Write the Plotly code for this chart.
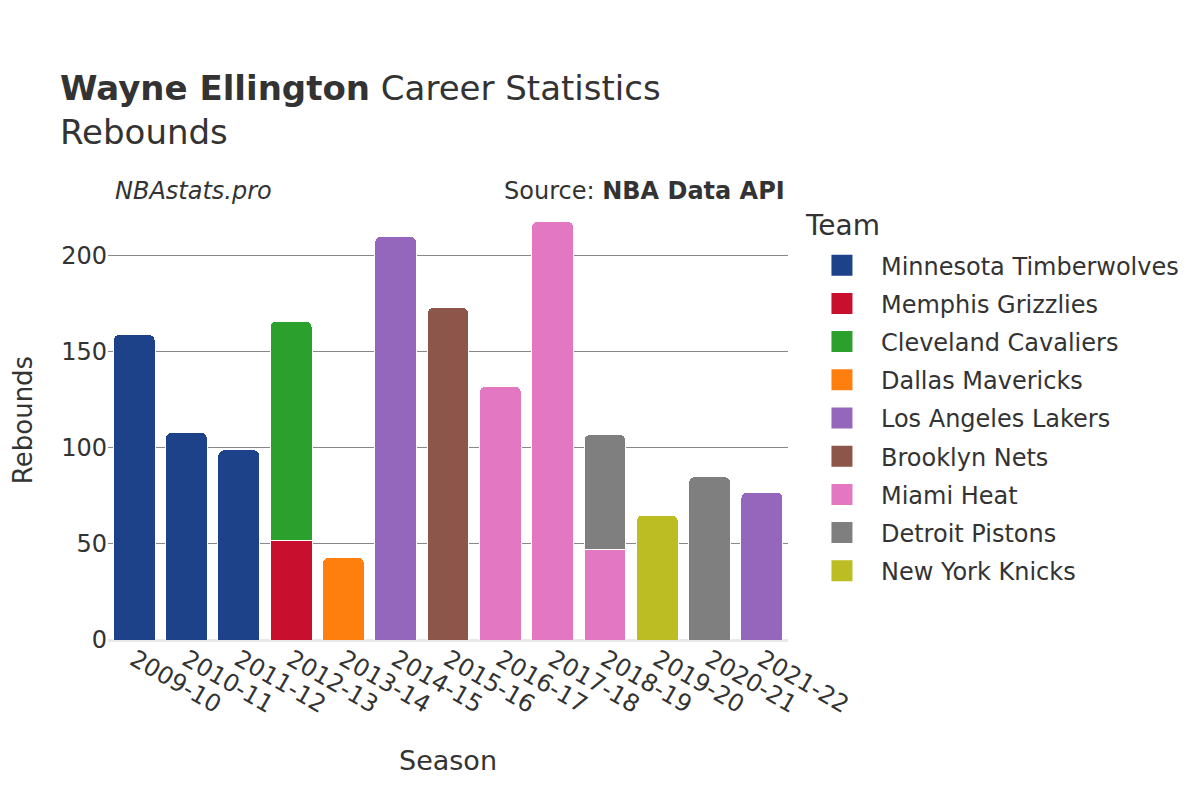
import plotly.graph_objects as go

seasons = ["2009-10", "2010-11", "2011-12", "2012-13", "2013-14", "2014-15", "2015-16",
           "2016-17", "2017-18", "2018-19", "2019-20", "2020-21", "2021-22"]

teams = ["Minnesota Timberwolves", "Memphis Grizzlies", "Cleveland Cavaliers", "Dallas Mavericks",
         "Los Angeles Lakers", "Brooklyn Nets", "Miami Heat", "Detroit Pistons", "New York Knicks"]
colors = ["#1d428a", "#c8102e", "#2ca02c", "#ff7f0e", "#9467bd", "#8c564b", "#e377c2", "#7f7f7f", "#bcbd22"]

team_seasons = {
    "Minnesota Timberwolves": ["2009-10", "2010-11", "2011-12"],
    "Memphis Grizzlies": ["2012-13"],
    "Cleveland Cavaliers": ["2012-13"],
    "Dallas Mavericks": ["2013-14"],
    "Los Angeles Lakers": ["2014-15", "2021-22"],
    "Brooklyn Nets": ["2015-16"],
    "Miami Heat": ["2016-17", "2017-18", "2018-19"],
    "Detroit Pistons": ["2018-19", "2020-21"],
    "New York Knicks": ["2019-20"],
}
team_rebounds = {
    "Minnesota Timberwolves": [159, 108, 99],
    "Memphis Grizzlies": [52],
    "Cleveland Cavaliers": [114],
    "Dallas Mavericks": [43],
    "Los Angeles Lakers": [210, 77],
    "Brooklyn Nets": [173],
    "Miami Heat": [132, 218, 47],
    "Detroit Pistons": [60, 85],
    "New York Knicks": [65],
}

fig = go.Figure()
for team, color in zip(teams, colors):
    fig.add_trace(go.Bar(
        x=team_seasons[team], y=team_rebounds[team], name=team, legendgroup=team,
        showlegend=False,
        marker=dict(color=color, line=dict(color="white", width=1), cornerradius=6),
    ))
# legend entries with larger swatches
for team, color in zip(teams, colors):
    fig.add_trace(go.Scatter(
        x=[None], y=[None], name=team, legendgroup=team, mode="markers",
        marker=dict(symbol="square", size=16, color=color, line=dict(color=color, width=5)),
        hoverinfo="skip",
    ))

font_family = "DejaVu Sans"
fig.update_layout(
    barmode="stack",
    bargap=0.2,
    width=1200, height=800,
    font=dict(family=font_family, color="#333333", size=24),
    paper_bgcolor="white", plot_bgcolor="white",
    margin=dict(l=100, r=420, t=192, b=168),
    title=dict(
        text="<b>Wayne Ellington</b> Career Statistics<br>Rebounds",
        x=52 / 1200, xanchor="left", y=0.8855, yanchor="top",
        font=dict(size=34, family=font_family, color="#333333"),
    ),
    legend=dict(
        font=dict(size=24),
        x=1.022, xanchor="left", y=0.902, yanchor="top",
        itemwidth=68,
        traceorder="grouped", tracegroupgap=4,
    ),
    xaxis=dict(
        type="category",
        title=dict(text="Season", font=dict(size=27), standoff=33),
        tickangle=30, categoryorder="array", categoryarray=seasons,
        tickfont=dict(size=24), showgrid=False,
    ),
    yaxis=dict(
        title=dict(text="Rebounds", font=dict(size=26), standoff=27),
        automargin=False,
        range=[0, 229], gridcolor="#888888", gridwidth=1,
        zeroline=True, zerolinecolor="#e8e8e8", zerolinewidth=3,
        tickfont=dict(size=24), dtick=50,
    ),
    annotations=[
        dict(text="<i>NBAstats.pro</i>", xref="paper", yref="paper", x=0.007, y=0.984,
             xanchor="left", yanchor="bottom", showarrow=False, font=dict(size=24)),
        dict(text="Source: <b>NBA Data API</b>", xref="paper", yref="paper", x=0.999, y=0.984,
             xanchor="right", yanchor="bottom", showarrow=False, font=dict(size=24)),
        dict(text="Team", xref="paper", yref="paper", x=1.022, y=0.941,
             xanchor="left", yanchor="middle", showarrow=False, font=dict(size=28)),
    ],
)

fig.write_html("out.html")
